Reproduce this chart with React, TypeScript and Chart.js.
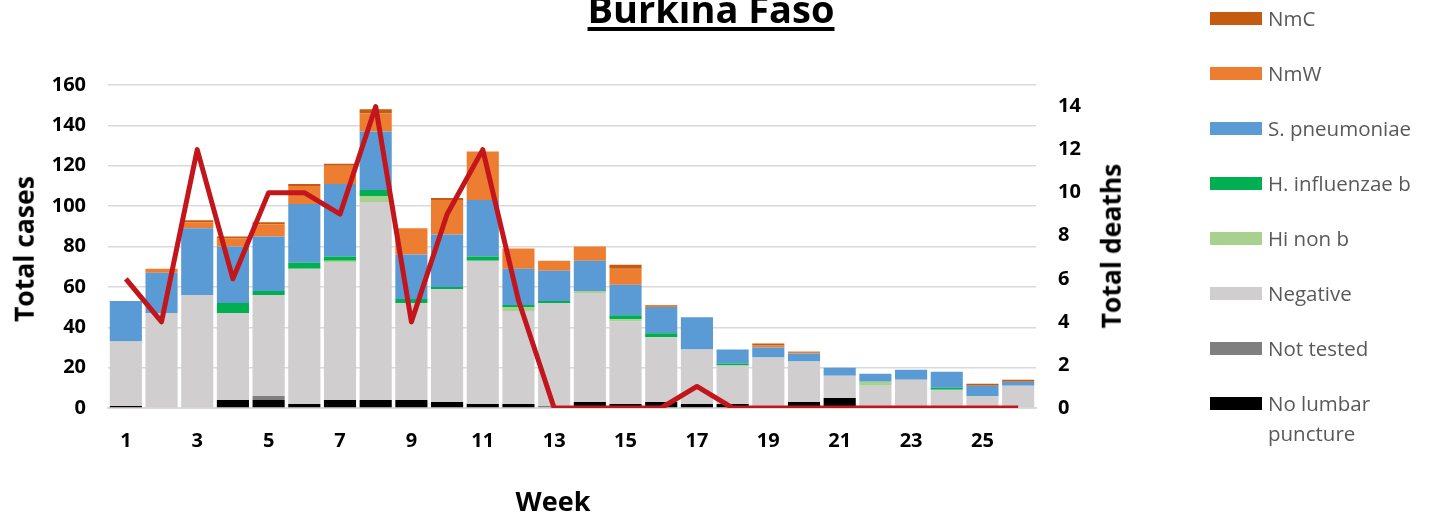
import React, { useEffect, useRef } from 'react';
import { Chart, registerables } from 'chart.js';

Chart.register(...registerables);

const weeks = ['1','2','3','4','5','6','7','8','9','10','11','12','13','14','15','16','17','18','19','20','21','22','23','24','25','26'];

const noLumbarPuncture = [1,0,0,4,4,2,4,4,4,3,2,2,0,3,2,3,2,2,0,3,5,0,0,0,0,0];
const notTested =        [0,0,0,0,2,0,0,0,0,0,0,0,1,0,0,0,0,0,0,0,0,0,0,0,0,0];
const negative =         [32,47,56,43,50,67,68,98,48,56,71,46,51,54,41,32,27,19,25,20,11,11,14,9,6,11];
const hiNonB =           [0,0,0,0,0,0,1,3,0,0,0,2,0,1,1,0,0,0,0,0,0,2,0,0,0,0];
const hInfluenzaeB =     [0,0,0,5,2,3,2,3,2,1,2,1,1,0,2,2,0,1,0,0,0,0,0,1,0,0];
const sPneumoniae =      [20,20,33,28,27,29,36,29,22,26,28,18,15,15,15,13,16,7,5,4,4,4,5,8,5,2];
const nmW =              [0,2,3,4,6,9,9,9,13,17,24,10,5,7,8,1,0,0,1,1,0,0,0,0,0,0];
const nmC =              [0,0,1,1,1,1,1,2,0,1,0,0,0,0,2,0,0,0,1,0,0,0,0,0,1,1];
const totalDeaths =      [6,4,12,6,10,10,9,14,4,9,12,5,0,0,0,0,1,0,0,0,0,0,0,0,0,0];

const leftTicks = { min: 0, max: 160, step: 20 };
const rightTicks = { min: 0, max: 15, step: 2 };

const legendItems = [
  { label: 'NmC', color: '#C55A11' },
  { label: 'NmW', color: '#ED7D31' },
  { label: 'S. pneumoniae', color: '#5B9BD5' },
  { label: 'H. influenzae b', color: '#00B050' },
  { label: 'Hi non b', color: '#A9D18E' },
  { label: 'Negative', color: '#D0CECE' },
  { label: 'Not tested', color: '#7F7F7F' },
  { label: 'No lumbar puncture', color: '#000000' },
];

const FONT = "'Open Sans', 'DejaVu Sans', sans-serif";

export default function App() {
  const ref = useRef<HTMLCanvasElement>(null);

  useEffect(() => {
    if (!ref.current) return;
    const tickFont = { family: FONT, size: 20, weight: 'bold' as const };
    const bar = (label: string, data: number[], color: string) => ({
      type: 'bar' as const,
      label,
      data,
      backgroundColor: color,
      borderWidth: 0,
      barPercentage: 0.9,
      categoryPercentage: 1.0,
      yAxisID: 'y',
      order: 1,
    });
    const chart = new Chart(ref.current, {
      type: 'bar',
      data: {
        labels: weeks,
        datasets: [
          {
            type: 'line' as const,
            label: 'Total deaths',
            data: totalDeaths,
            borderColor: '#C3161C',
            borderWidth: 5,
            pointRadius: 0,
            tension: 0,
            fill: false,
            yAxisID: 'y1',
            order: 0,
            borderJoinStyle: 'round' as const,
          } as any,
          bar('No lumbar puncture', noLumbarPuncture, '#000000'),
          bar('Not tested', notTested, '#7F7F7F'),
          bar('Negative', negative, '#D0CECE'),
          bar('Hi non b', hiNonB, '#A9D18E'),
          bar('H. influenzae b', hInfluenzaeB, '#00B050'),
          bar('S. pneumoniae', sPneumoniae, '#5B9BD5'),
          bar('NmW', nmW, '#ED7D31'),
          bar('NmC', nmC, '#C55A11'),
        ],
      },
      options: {
        animation: false,
        responsive: false,
        maintainAspectRatio: false,
        layout: { padding: { top: 85, right: 336, bottom: 50, left: 0 } },
        plugins: {
          legend: { display: false },
          tooltip: { enabled: false },
          title: { display: false },
        },
        scales: {
          x: {
            stacked: true,
            grid: { display: false, drawTicks: false },
            border: { display: true, color: '#D9D9D9', width: 2 },
            ticks: {
              autoSkip: false,
              maxRotation: 0,
              padding: 21,
              color: '#000',
              font: tickFont,
              callback: (_v: any, i: number) => (i % 2 === 0 ? weeks[i] : ''),
            },
            afterFit: (s: any) => { s.height = 60; },
          },
          y: {
            stacked: true,
            position: 'left',
            min: leftTicks.min,
            max: leftTicks.max,
            grid: { color: '#D9D9D9', lineWidth: 1.5, drawTicks: false },
            border: { display: false },
            ticks: { stepSize: leftTicks.step, padding: 22, color: '#000', font: tickFont },
            afterFit: (s: any) => { s.width = 108; },
          },
          y1: {
            stacked: false,
            position: 'right',
            min: rightTicks.min,
            max: rightTicks.max,
            grid: { display: false, drawTicks: false },
            border: { display: false },
            ticks: {
              stepSize: rightTicks.step,
              includeBounds: false,
              padding: 22,
              color: '#000',
              font: tickFont,
              callback: (v: any) => (Number(v) % 2 === 0 ? String(v) : ''),
            },
            afterFit: (s: any) => { s.width = 60; },
          },
        },
      } as any,
    });
    return () => chart.destroy();
  }, []);

  const rot = (text: string, cx: number, cy: number, size: number) => (
    <div
      style={{
        position: 'absolute',
        left: cx,
        top: cy,
        transform: 'translate(-50%, -50%) rotate(-90deg)',
        whiteSpace: 'nowrap',
        fontFamily: FONT,
        fontWeight: 'bold',
        fontSize: size,
        lineHeight: 1,
        color: '#000',
      }}
    >
      {text}
    </div>
  );

  return (
    <div style={{ position: 'fixed', left: 0, top: 0, width: 1432, height: 518, background: '#fff', overflow: 'hidden' }}>
      <canvas ref={ref} width={1432} height={518} style={{ position: 'absolute', left: 0, top: 0, display: 'block' }} />
      <div
        style={{
          position: 'absolute',
          left: 711,
          top: -11,
          transform: 'translateX(-50%)',
          whiteSpace: 'nowrap',
          fontFamily: FONT,
          fontWeight: 'bold',
          fontSize: 38,
          lineHeight: 1,
          textDecoration: 'underline',
          textDecorationThickness: 4,
          textUnderlineOffset: 4,
          color: '#000',
        }}
      >
        Burkina Faso
      </div>
      {rot('Total cases', 24, 249, 26.5)}
      {rot('Total deaths', 1111, 246, 26.5)}
      <div
        style={{
          position: 'absolute',
          left: 553,
          top: 500,
          transform: 'translate(-50%, -50%)',
          whiteSpace: 'nowrap',
          fontFamily: FONT,
          fontWeight: 'bold',
          fontSize: 27,
          lineHeight: 1,
          color: '#000',
        }}
      >
        Week
      </div>
      {legendItems.map((it, i) => {
        const cy = 18 + i * 55;
        const last = i === legendItems.length - 1;
        return (
          <React.Fragment key={it.label}>
            <div style={{ position: 'absolute', left: 1210, top: cy - 6.5, width: 52, height: 13, background: it.color }} />
            <div
              style={{
                position: 'absolute',
                left: 1268,
                top: cy - 15,
                width: last ? 120 : undefined,
                whiteSpace: last ? 'normal' : 'nowrap',
                fontFamily: FONT,
                fontSize: 20.5,
                lineHeight: '30px',
                color: '#595959',
              }}
            >
              {it.label}
            </div>
          </React.Fragment>
        );
      })}
    </div>
  );
}
